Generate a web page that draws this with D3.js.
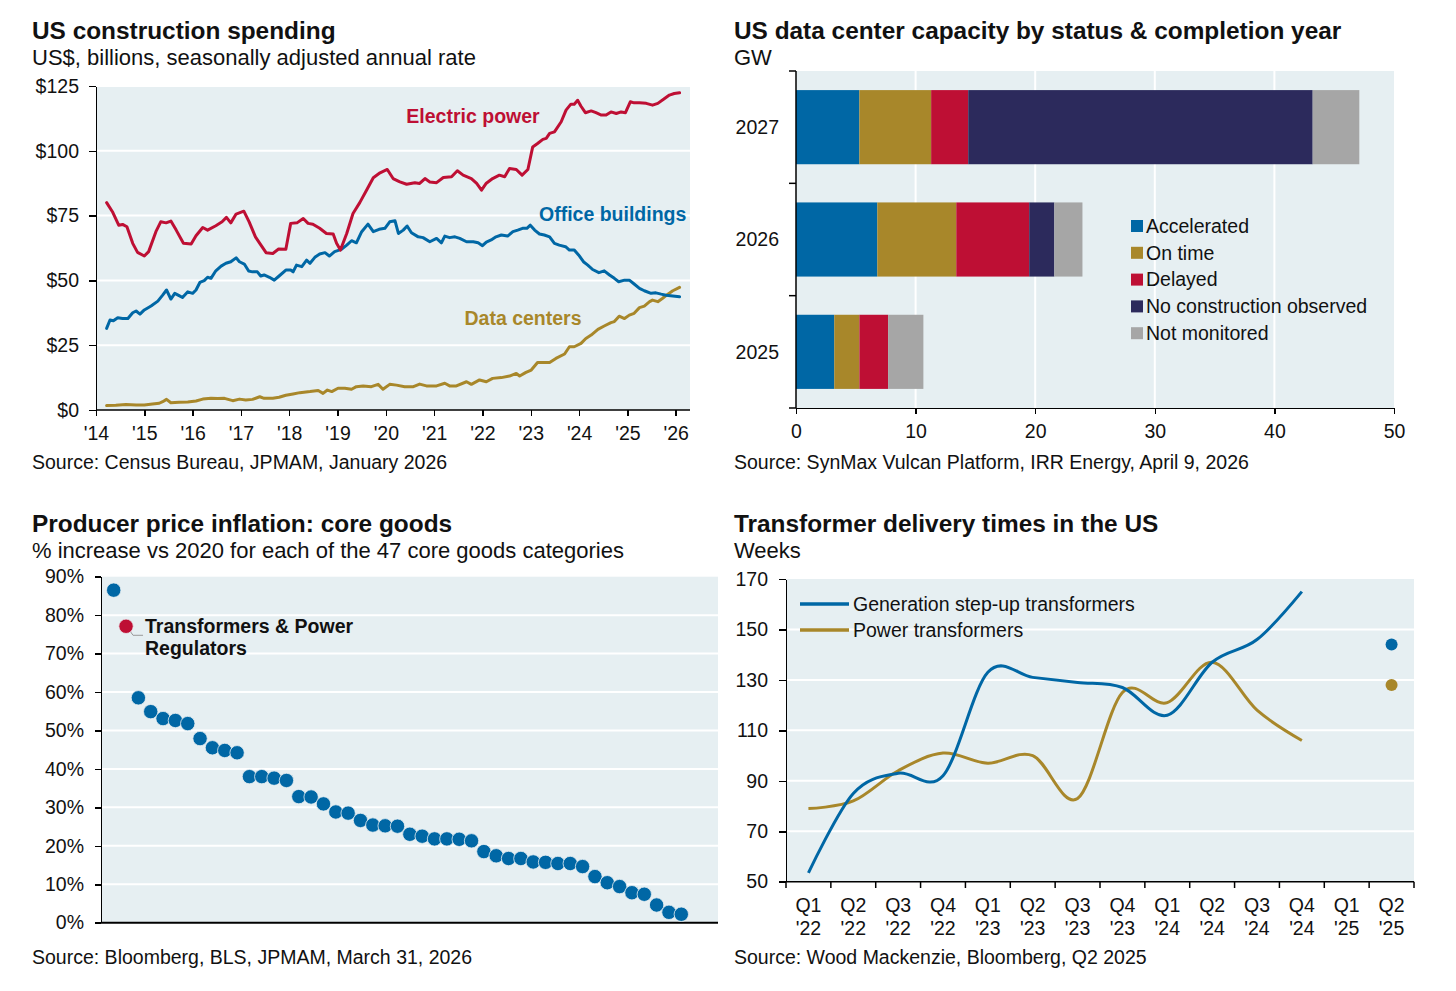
<!DOCTYPE html>
<html lang="en">
<head>
<meta charset="UTF-8">
<title>Construction and power charts</title>
<script src="https://cdn.jsdelivr.net/npm/d3@7/dist/d3.min.js"></script>
<style>
    body{ margin:0; background:#fff; }
    svg{ font-family:"Liberation Sans", Arial, sans-serif; }
    .title{ font-size:24.4px; font-weight:bold; fill:#111; }
    .sub{ font-size:22px; fill:#111; }
    .src{ font-size:19.5px; fill:#111; }
    .axis path, .axis line{ fill:none; stroke:#000; stroke-width:1.5; shape-rendering:crispEdges; }
    .axis text{ font-size:19.5px; fill:#111; font-family:"Liberation Sans", Arial, sans-serif; }
    .grid{ stroke:#fff; stroke-width:2; }
    .lbl{ font-size:19.5px; font-weight:bold; }
    .txt{ font-size:19.5px; fill:#111; }
</style>
</head>
<body>
<div id="app"></div>
<script>
// ---- colours
var BG = "#E6EFF2", BLUE = "#0067A5", GOLD = "#A8872A", RED = "#BE0F34", NAVY = "#2C2A5C", GREY = "#A6A6A6";

// ---- panel 1: US construction spending (year, US$bn)
var electricPower = [[2014.22,80.0],[2014.34,76.5],[2014.47,71.3],[2014.55,71.6],[2014.64,70.7],[2014.76,64.3],[2014.86,60.8],[2015.0,59.4],[2015.09,61.1],[2015.24,68.8],[2015.34,72.6],[2015.45,72.2],[2015.55,72.9],[2015.66,69.4],[2015.81,64.3],[2015.97,64.0],[2016.07,67.2],[2016.21,70.4],[2016.31,69.4],[2016.48,71.1],[2016.61,72.6],[2016.70,74.3],[2016.79,72.2],[2016.90,75.6],[2017.06,76.7],[2017.17,72.6],[2017.30,66.8],[2017.39,64.3],[2017.52,60.7],[2017.66,60.4],[2017.78,62.1],[2017.93,62.0],[2018.03,72.0],[2018.16,72.2],[2018.29,73.9],[2018.39,72.0],[2018.49,71.7],[2018.63,70.1],[2018.77,68.1],[2018.91,67.9],[2018.98,64.3],[2019.06,61.7],[2019.19,68.1],[2019.32,75.8],[2019.46,80.0],[2019.60,84.8],[2019.74,89.6],[2019.88,91.5],[2020.03,92.8],[2020.15,89.3],[2020.29,88.0],[2020.43,87.1],[2020.60,87.7],[2020.70,87.4],[2020.81,89.3],[2020.91,88.0],[2021.05,87.7],[2021.19,89.7],[2021.36,90.0],[2021.48,92.3],[2021.60,90.6],[2021.77,89.3],[2021.88,87.4],[2021.98,84.8],[2022.08,87.5],[2022.21,89.3],[2022.35,90.6],[2022.46,90.0],[2022.56,93.2],[2022.70,92.8],[2022.82,90.6],[2022.94,92.8],[2023.04,101.5],[2023.14,102.8],[2023.25,104.4],[2023.32,104.8],[2023.39,106.7],[2023.49,107.3],[2023.63,111.2],[2023.73,115.7],[2023.83,118.0],[2023.90,118.0],[2023.97,119.5],[2024.04,117.2],[2024.13,114.7],[2024.25,115.4],[2024.35,114.7],[2024.46,113.8],[2024.56,113.8],[2024.66,115.0],[2024.77,114.4],[2024.87,115.0],[2024.96,114.7],[2025.06,118.9],[2025.14,118.5],[2025.25,118.5],[2025.39,118.3],[2025.52,117.6],[2025.63,118.3],[2025.77,120.2],[2025.87,121.5],[2025.97,122.1],[2026.08,122.4]];
var officeBuildings = [[2014.22,31.5],[2014.29,34.7],[2014.36,34.4],[2014.45,35.6],[2014.55,35.3],[2014.66,35.3],[2014.76,37.5],[2014.83,38.2],[2014.91,37.0],[2015.0,38.6],[2015.14,40.1],[2015.28,42.0],[2015.38,44.3],[2015.46,46.3],[2015.55,42.8],[2015.63,45.0],[2015.72,44.1],[2015.79,43.4],[2015.90,45.6],[2016.0,45.0],[2016.07,46.3],[2016.15,49.2],[2016.24,49.9],[2016.31,51.2],[2016.38,50.8],[2016.48,53.7],[2016.59,55.5],[2016.69,56.6],[2016.79,57.2],[2016.90,58.7],[2016.97,57.2],[2017.07,56.3],[2017.16,53.6],[2017.24,53.3],[2017.34,53.3],[2017.41,51.7],[2017.48,52.1],[2017.59,51.2],[2017.69,50.1],[2017.79,51.7],[2017.93,54.0],[2018.03,54.0],[2018.08,53.3],[2018.15,55.9],[2018.26,55.3],[2018.36,57.8],[2018.43,56.6],[2018.53,58.9],[2018.63,60.2],[2018.74,60.7],[2018.83,59.4],[2018.94,61.1],[2019.08,62.0],[2019.19,63.6],[2019.29,65.3],[2019.39,64.5],[2019.50,68.8],[2019.63,71.7],[2019.74,68.8],[2019.86,69.7],[2019.98,70.1],[2020.08,72.6],[2020.19,73.0],[2020.26,68.1],[2020.36,69.4],[2020.44,71.0],[2020.53,68.4],[2020.67,66.8],[2020.77,66.5],[2020.91,64.9],[2021.05,66.2],[2021.15,64.5],[2021.22,67.1],[2021.32,66.5],[2021.43,66.8],[2021.53,66.2],[2021.67,64.9],[2021.81,64.9],[2021.91,64.5],[2022.0,63.4],[2022.08,64.8],[2022.18,65.6],[2022.28,66.8],[2022.39,67.5],[2022.52,67.1],[2022.63,68.8],[2022.73,69.4],[2022.83,70.1],[2022.92,70.1],[2022.99,71.3],[2023.08,69.4],[2023.18,67.9],[2023.28,67.5],[2023.39,66.8],[2023.49,64.3],[2023.59,63.6],[2023.72,63.0],[2023.80,61.7],[2023.90,61.7],[2023.99,59.8],[2024.09,57.2],[2024.18,55.9],[2024.28,54.2],[2024.41,53.0],[2024.52,53.7],[2024.63,52.1],[2024.73,50.8],[2024.82,49.5],[2024.94,50.1],[2025.04,50.1],[2025.14,48.6],[2025.25,46.9],[2025.35,46.0],[2025.49,45.0],[2025.59,45.2],[2025.70,44.7],[2025.80,44.3],[2025.94,44.0],[2026.08,43.7]];
var dataCenters = [[2014.22,1.7],[2014.41,1.8],[2014.62,2.1],[2014.83,1.9],[2015.0,1.9],[2015.17,2.3],[2015.31,2.6],[2015.38,3.2],[2015.46,4.1],[2015.55,2.8],[2015.72,3.0],[2015.90,3.1],[2016.07,3.5],[2016.21,4.2],[2016.38,4.5],[2016.52,4.4],[2016.66,4.5],[2016.83,3.6],[2016.97,4.2],[2017.10,3.9],[2017.24,4.1],[2017.39,5.1],[2017.48,4.5],[2017.66,4.5],[2017.79,4.9],[2017.93,5.7],[2018.08,6.2],[2018.22,6.7],[2018.43,7.1],[2018.60,7.5],[2018.70,6.4],[2018.79,7.7],[2018.88,7.1],[2019.01,8.4],[2019.15,8.4],[2019.29,8.0],[2019.39,9.0],[2019.53,9.3],[2019.70,9.0],[2019.84,9.9],[2019.94,8.0],[2020.08,9.9],[2020.22,9.6],[2020.39,9.0],[2020.57,9.0],[2020.70,10.0],[2020.84,9.3],[2021.05,9.3],[2021.22,10.3],[2021.32,9.3],[2021.46,9.3],[2021.67,10.9],[2021.77,9.9],[2021.94,11.6],[2022.08,10.9],[2022.21,12.2],[2022.39,12.5],[2022.56,13.1],[2022.70,14.1],[2022.77,13.1],[2022.90,14.5],[2023.01,15.4],[2023.14,18.3],[2023.25,18.3],[2023.39,18.3],[2023.52,19.9],[2023.70,21.6],[2023.80,24.4],[2023.90,24.4],[2024.04,25.7],[2024.14,27.6],[2024.25,28.9],[2024.39,31.1],[2024.52,32.4],[2024.66,33.7],[2024.73,34.1],[2024.83,36.2],[2024.94,35.3],[2025.04,36.6],[2025.14,37.3],[2025.25,39.5],[2025.35,40.1],[2025.46,41.8],[2025.52,42.4],[2025.63,41.8],[2025.73,43.1],[2025.83,44.6],[2025.94,46.0],[2026.08,47.3]];
var spendTicks = [0, 25, 50, 75, 100, 125];
var spendYears = [2014,2015,2016,2017,2018,2019,2020,2021,2022,2023,2024,2025,2026];

// ---- panel 2: data center capacity (GW)
var dcYears = ["2027", "2026", "2025"];
var statusNames = ["Accelerated", "On time", "Delayed", "No construction observed", "Not monitored"];
var accelerated    = [5.3, 6.8, 3.2];
var onTime         = [6.0, 6.6, 2.1];
var delayed        = [3.1, 6.1, 2.4];
var noConstruction = [28.8, 2.1, 0];
var notMonitored   = [3.9, 2.35, 2.95];
var gwTicks = [0, 10, 20, 30, 40, 50];

// ---- panel 3: PPI core goods, % vs 2020 (47 categories, sorted)
var coreGoods = [86.5,77.1,58.5,54.9,53.1,52.6,51.8,47.9,45.5,44.8,44.2,38.0,38.0,37.6,37.0,32.8,32.7,30.9,28.8,28.5,26.6,25.4,25.2,25.1,23.0,22.5,21.8,21.8,21.7,21.3,18.5,17.4,16.7,16.7,15.8,15.7,15.4,15.4,14.6,12.0,10.4,9.4,7.8,7.4,4.6,2.7,2.2];
var highlightIndex = 1;
var pctTicks = [0,10,20,30,40,50,60,70,80,90];

// ---- panel 4: transformer delivery times (weeks)
var quarters = ["Q1 '22","Q2 '22","Q3 '22","Q4 '22","Q1 '23","Q2 '23","Q3 '23","Q4 '23","Q1 '24","Q2 '24","Q3 '24","Q4 '24","Q1 '25","Q2 '25"];
var gsuWeeks   = [53.5, 85, 93, 92, 133, 131, 129, 127, 116, 137, 146, 165, null, 144];
var powerWeeks = [79, 82, 94, 101, 97, 100, 83, 125, 121, 137, 118, 106, null, 128];
var weekTicks = [50, 70, 90, 110, 130, 150, 170];

var svg = d3.select("#app").append("svg").attr("width", 1456).attr("height", 991);

function heading(x, y, t, s, src, srcY){
    svg.append("text").attr("class","title").attr("x",x).attr("y",y).text(t);
    svg.append("text").attr("class","sub").attr("x",x).attr("y",y+26).text(s);
    svg.append("text").attr("class","src").attr("x",x).attr("y",srcY).text(src);
}

// ================= panel 1
heading(32, 39, "US construction spending", "US$, billions, seasonally adjusted annual rate", "Source: Census Bureau, JPMAM, January 2026", 469);
var x1 = d3.scaleLinear().domain([2014, 2026]).range([96, 675.7]);
var y1 = d3.scaleLinear().domain([0, 125]).range([410, 86]);
var p1 = svg.append("g");
p1.append("rect").attr("x",96).attr("y",86).attr("width",594).attr("height",324).attr("fill",BG);
p1.selectAll(".grid").data(spendTicks.slice(1)).enter().append("line").attr("class","grid")
    .attr("x1",96).attr("x2",690).attr("y1",function(d){return y1(d);}).attr("y2",function(d){return y1(d);});
var line1 = d3.line().x(function(d){return x1(d[0]);}).y(function(d){return y1(d[1]);});
[[dataCenters,GOLD],[officeBuildings,BLUE],[electricPower,RED]].forEach(function(s){
    p1.append("path").attr("d", line1(s[0])).attr("fill","none").attr("stroke",s[1])
        .attr("stroke-width",3).attr("stroke-linejoin","round").attr("stroke-linecap","round");
});
p1.append("g").attr("class","axis").attr("transform","translate(96,0)")
    .call(d3.axisLeft(y1).tickValues(spendTicks).tickFormat(function(d){return "$"+d;}).tickSize(7).tickPadding(10).tickSizeOuter(0));
var xa1 = p1.append("g").attr("class","axis").attr("transform","translate(0,410)")
    .call(d3.axisBottom(x1).tickValues(spendYears).tickFormat(function(d){return "'"+String(d).slice(2);}).tickSize(6).tickPadding(10).tickSizeOuter(0));
xa1.select(".domain").remove();
p1.append("line").attr("x1",96).attr("x2",690).attr("y1",410).attr("y2",410).attr("stroke","#000").attr("stroke-width",1.5);
p1.append("text").attr("class","lbl").attr("x",473).attr("y",123).attr("text-anchor","middle").attr("fill",RED).text("Electric power");
p1.append("text").attr("class","lbl").attr("x",539).attr("y",221).attr("fill",BLUE).text("Office buildings");
p1.append("text").attr("class","lbl").attr("x",523).attr("y",325).attr("text-anchor","middle").attr("fill",GOLD).text("Data centers");

// ================= panel 2
heading(734, 39, "US data center capacity by status & completion year", "GW", "Source: SynMax Vulcan Platform, IRR Energy, April 9, 2026", 469);
var x2 = d3.scaleLinear().domain([0, 50]).range([796, 1394]);
var y2 = d3.scaleBand().domain(dcYears).range([71, 408]).paddingInner(0.34).paddingOuter(0.17);
var p2 = svg.append("g");
p2.append("rect").attr("x",796).attr("y",71).attr("width",598).attr("height",337).attr("fill",BG);
p2.selectAll(".grid").data(gwTicks.slice(1, 5)).enter().append("line").attr("class","grid")
    .attr("y1",71).attr("y2",408).attr("x1",function(d){return x2(d);}).attr("x2",function(d){return x2(d);});
var rows = dcYears.map(function(y, i){
    return {year:y, "Accelerated":accelerated[i], "On time":onTime[i], "Delayed":delayed[i],
        "No construction observed":noConstruction[i], "Not monitored":notMonitored[i]};
});
var statusColor = d3.scaleOrdinal().domain(statusNames).range([BLUE, GOLD, RED, NAVY, GREY]);
var stacked = d3.stack().keys(statusNames)(rows);
p2.selectAll(".layer").data(stacked).enter().append("g").attr("fill",function(d){return statusColor(d.key);})
    .selectAll("rect").data(function(d){return d;}).enter().append("rect")
    .attr("x",function(d){return x2(d[0]);}).attr("width",function(d){return x2(d[1])-x2(d[0]);})
    .attr("y",function(d){return y2(d.data.year);}).attr("height",y2.bandwidth());
var bounds = [71].concat(dcYears.map(function(y){return y2(y)+y2.bandwidth()+(y2.step()-y2.bandwidth())/2;}));
p2.selectAll(".ytick").data(bounds).enter().append("line").attr("x1",789).attr("x2",796)
    .attr("y1",function(d){return d;}).attr("y2",function(d){return d;}).attr("stroke","#000").attr("stroke-width",1.5);
p2.append("line").attr("x1",796).attr("x2",796).attr("y1",71).attr("y2",408).attr("stroke","#000").attr("stroke-width",1.5);
p2.selectAll(".ylab").data(dcYears).enter().append("text").attr("class","txt").attr("x",779).attr("text-anchor","end")
    .attr("y",function(d){return y2(d)+y2.bandwidth()/2;}).attr("dy","0.35em").text(function(d){return d;});
p2.append("g").attr("class","axis").attr("transform","translate(0,408)")
    .call(d3.axisBottom(x2).tickValues(gwTicks).tickSize(6).tickPadding(10).tickSizeOuter(0));
var lg2 = p2.selectAll(".leg").data(statusNames).enter().append("g")
    .attr("transform",function(d,i){return "translate(1131,"+(226+i*26.8)+")";});
lg2.append("rect").attr("x",0).attr("y",-6).attr("width",12).attr("height",12).attr("fill",function(d){return statusColor(d);});
lg2.append("text").attr("class","txt").attr("x",15).attr("dy","0.35em").text(function(d){return d;});

// ================= panel 3
heading(32, 532, "Producer price inflation: core goods", "% increase vs 2020 for each of the 47 core goods categories", "Source: Bloomberg, BLS, JPMAM, March 31, 2026", 964);
var x3 = d3.scaleLinear().domain([0, coreGoods.length-1]).range([113.7, 681.3]);
var y3 = d3.scaleLinear().domain([0, 90]).range([922.7, 576.7]);
var p3 = svg.append("g");
p3.append("rect").attr("x",101).attr("y",576.7).attr("width",617).attr("height",346).attr("fill",BG);
p3.selectAll(".grid").data(pctTicks.slice(1, 9)).enter().append("line").attr("class","grid")
    .attr("x1",101).attr("x2",718).attr("y1",function(d){return y3(d);}).attr("y2",function(d){return y3(d);});
p3.append("g").attr("class","axis").attr("transform","translate(101,0)")
    .call(d3.axisLeft(y3).tickValues(pctTicks).tickFormat(function(d){return d+"%";}).tickSize(6).tickPadding(11).tickSizeOuter(0));
p3.append("line").attr("x1",101).attr("x2",718).attr("y1",922.7).attr("y2",922.7).attr("stroke","#000").attr("stroke-width",2);
p3.append("polyline").attr("fill","none").attr("stroke","#999").attr("stroke-width",1)
    .attr("points",[[x3(highlightIndex)+2, y3(coreGoods[highlightIndex])+2],[x3(highlightIndex)+7, y3(coreGoods[highlightIndex])+9],[x3(highlightIndex)+17, y3(coreGoods[highlightIndex])+9]].join(" "));
p3.selectAll(".dot").data(coreGoods).enter().append("circle")
    .attr("cx",function(d,i){return x3(i);}).attr("cy",function(d){return y3(d);}).attr("r",7.2)
    .attr("fill",function(d,i){return i===highlightIndex ? RED : BLUE;}).attr("stroke","#e8f0f3").attr("stroke-width",0.8);
var ann = p3.append("text").attr("class","lbl").attr("fill","#111");
ann.append("tspan").attr("x",145).attr("y",633).text("Transformers & Power");
ann.append("tspan").attr("x",145).attr("y",655).text("Regulators");

// ================= panel 4
heading(734, 532, "Transformer delivery times in the US", "Weeks", "Source: Wood Mackenzie, Bloomberg, Q2 2025", 964);
var x4 = d3.scaleBand().domain(quarters).range([786, 1414]);
var y4 = d3.scaleLinear().domain([50, 170]).range([881.7, 579]);
var p4 = svg.append("g");
p4.append("rect").attr("x",786).attr("y",579).attr("width",628).attr("height",302.7).attr("fill",BG);
p4.selectAll(".grid").data(weekTicks.slice(1, 6)).enter().append("line").attr("class","grid")
    .attr("x1",786).attr("x2",1414).attr("y1",function(d){return y4(d);}).attr("y2",function(d){return y4(d);});
p4.append("g").attr("class","axis").attr("transform","translate(786,0)")
    .call(d3.axisLeft(y4).tickValues(weekTicks).tickSize(7).tickPadding(11).tickSizeOuter(0));
p4.append("line").attr("x1",786).attr("x2",1414).attr("y1",881.7).attr("y2",881.7).attr("stroke","#000").attr("stroke-width",1.5);
p4.selectAll(".xtick").data(quarters.concat(["end"])).enter().append("line")
    .attr("x1",function(d){return d==="end" ? 1414 : x4(d);}).attr("x2",function(d){return d==="end" ? 1414 : x4(d);})
    .attr("y1",881.7).attr("y2",888).attr("stroke","#000").attr("stroke-width",1.5);
var qlab = p4.selectAll(".qlab").data(quarters).enter().append("text").attr("class","txt").attr("text-anchor","middle");
qlab.append("tspan").attr("x",function(d){return x4(d)+x4.bandwidth()/2;}).attr("y",912).text(function(d){return d.split(" ")[0];});
qlab.append("tspan").attr("x",function(d){return x4(d)+x4.bandwidth()/2;}).attr("y",935).text(function(d){return d.split(" ")[1];});
var cx4 = function(i){return x4(quarters[i])+x4.bandwidth()/2;};
var line4 = d3.line().defined(function(d){return d!==null;}).x(function(d,i){return cx4(i);}).y(function(d){return y4(d);})
    .curve(d3.curveCardinal.tension(0));
[[powerWeeks,GOLD],[gsuWeeks,BLUE]].forEach(function(s){
    p4.append("path").attr("d", line4(s[0])).attr("fill","none").attr("stroke",s[1]).attr("stroke-width",3);
    var lone = s[0].map(function(v,i){return {v:v,i:i};}).filter(function(d){
        return d.v!==null && (d.i===0 || s[0][d.i-1]===null) && (d.i===s[0].length-1 || s[0][d.i+1]===null);
    });
    p4.selectAll(null).data(lone).enter().append("circle").attr("cx",function(d){return cx4(d.i);})
        .attr("cy",function(d){return y4(d.v);}).attr("r",6).attr("fill",s[1]);
});
var lg4 = p4.selectAll(".leg").data([["Generation step-up transformers",BLUE],["Power transformers",GOLD]]).enter().append("g")
    .attr("transform",function(d,i){return "translate(800,"+(604+i*26)+")";});
lg4.append("line").attr("x1",0).attr("x2",49).attr("stroke",function(d){return d[1];}).attr("stroke-width",3.5);
lg4.append("text").attr("class","txt").attr("x",53).attr("dy","0.35em").text(function(d){return d[0];});
</script>
</body>
</html>
